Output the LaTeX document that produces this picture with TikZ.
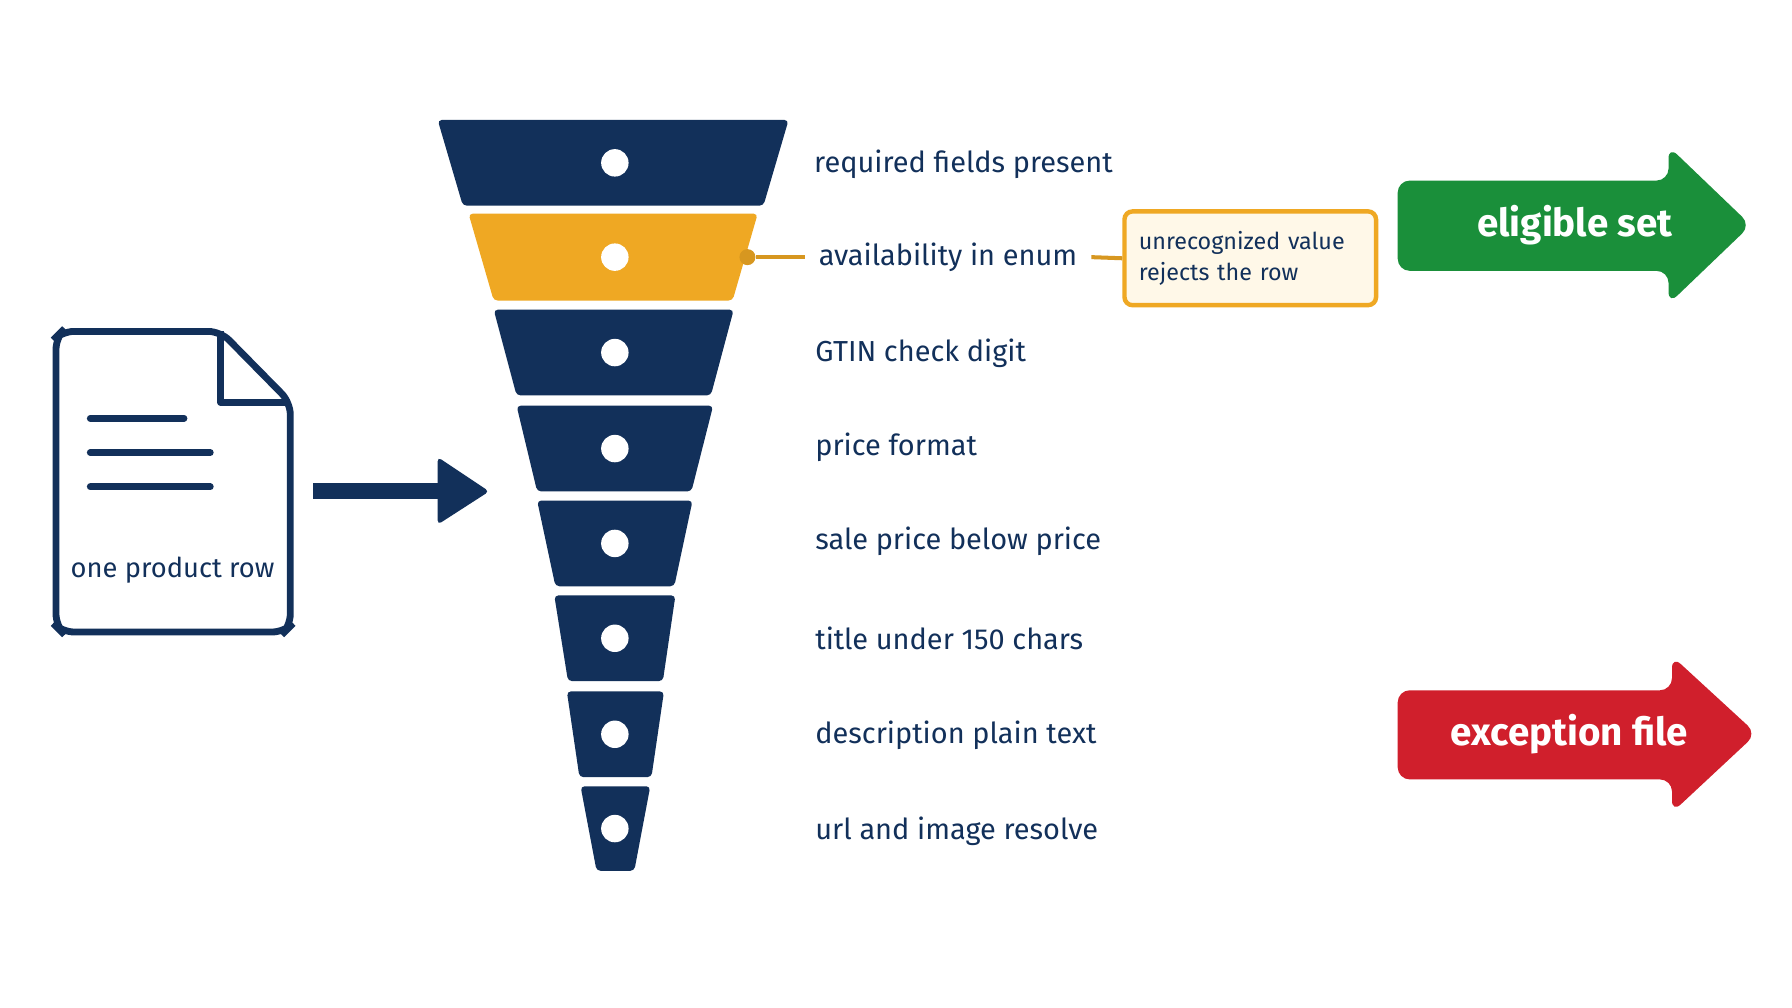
\documentclass[tikz,border=0pt]{standalone}
\usepackage{fontspec}
\setmainfont{Fira Sans}
\definecolor{navy}{HTML}{12305A}
\definecolor{gold}{HTML}{EFA823}
\definecolor{cream}{HTML}{FFF8E8}
\definecolor{grn}{HTML}{1A8F3A}
\definecolor{rd}{HTML}{D01F2C}
\begin{document}
\begin{tikzpicture}[x=0.01cm,y=-0.01cm,
 seg/.style={fill=navy,rounded corners=1pt},
 dot/.style={circle,fill=white,minimum size=0.24cm,inner sep=0pt},
 lab/.style={anchor=west,text=navy,font=\fontsize{7.2pt}{8pt}\selectfont},
 big/.style={text=white,font=\fontsize{9.6pt}{11pt}\selectfont\bfseries}]
\useasboundingbox[fill=white] (0,0) rectangle (1568,882);
% funnel
\foreach \i/\ya/\yb/\ta/\tb/\ba/\bb/\c in {1/105/180/383/690/405/668/navy,2/187/263/410/663/432/641/gold,3/271/346/432/642/452/622/navy,4/355/430/452/624/470/605/navy,5/438/513/470/606/486/590/navy,6/521/596/485/591/497/580/navy,7/605/680/496/581/507/570/navy,8/688/762/508/569/522/555/navy}{
 \fill[seg,fill=\c] (\ta,\ya) -- (\tb,\ya) -- (\bb,\yb) -- (\ba,\yb) -- cycle;
 \node[dot] (d\i) at (538,{(\ya+\yb)/2}) {};
}
\node[lab] (l1) at (700,144) {required fields present};
\node[lab] (l2) at (704,225) {availability in enum};
\node[lab] (l3) at (701,309) {GTIN check digit};
\node[lab] (l4) at (701,391) {price format};
\node[lab] (l5) at (701,474) {sale price below price};
\node[lab] (l6) at (701,559) {title under 150 chars};
\node[lab] (l7) at (701,643) {description plain text};
\node[lab] (l8) at (701,727) {url and image resolve};
% yellow callout
\node[circle,fill=gold!90!black,minimum size=0.14cm,inner sep=0pt] (yc) at (654,225) {};
\draw[gold!90!black,line width=1pt] (yc) -- (l2.west);
\node[draw=gold,line width=1.1pt,fill=cream,rounded corners=2pt,minimum width=2.2cm,minimum height=0.82cm,anchor=west,align=left,text=navy,font=\fontsize{5.8pt}{7.6pt}\selectfont,text width=1.95cm] (box) at (982,226) {unrecognized value\\rejects the row};
\draw[gold!90!black,line width=1pt] (l2.east) -- (box.west);
% document icon
\draw[navy,line width=1.7pt,rounded corners=3pt] (193,290) -- (54,290) -- (49,295) -- (49,548) -- (54,553) -- (249,553) -- (254,548) -- (254,352) -- cycle;
\draw[navy,line width=1.7pt,line join=round] (193,290) -- (193,352) -- (254,352);
\draw[navy,line width=1.7pt,line cap=round] (79,366) -- (161,366) (79,396) -- (184,396) (79,426) -- (184,426);
\node[text=navy,font=\fontsize{6.8pt}{8pt}\selectfont] (doc) at (151,499) {one product row};
\coordinate (as) at (274,430);
\coordinate (ae) at (428,430);
\draw[navy,line width=4pt] (as) -- (390,430);
\fill[navy,rounded corners=1pt] (383,400) -- (ae) -- (383,459) -- cycle;
% outcome arrows
\fill[grn,rounded corners=3pt] (1223,158) -- (1460,158) -- (1460,128) -- (1532,197) -- (1460,266) -- (1460,237) -- (1223,237) -- cycle;
\node[big] (el) at (1378,197) {eligible set};
\fill[rd,rounded corners=3pt] (1223,604) -- (1463,604) -- (1463,574) -- (1537,642) -- (1463,711) -- (1463,682) -- (1223,682) -- cycle;
\node[big] (ex) at (1373,642) {exception file};
\end{tikzpicture}
\end{document}
